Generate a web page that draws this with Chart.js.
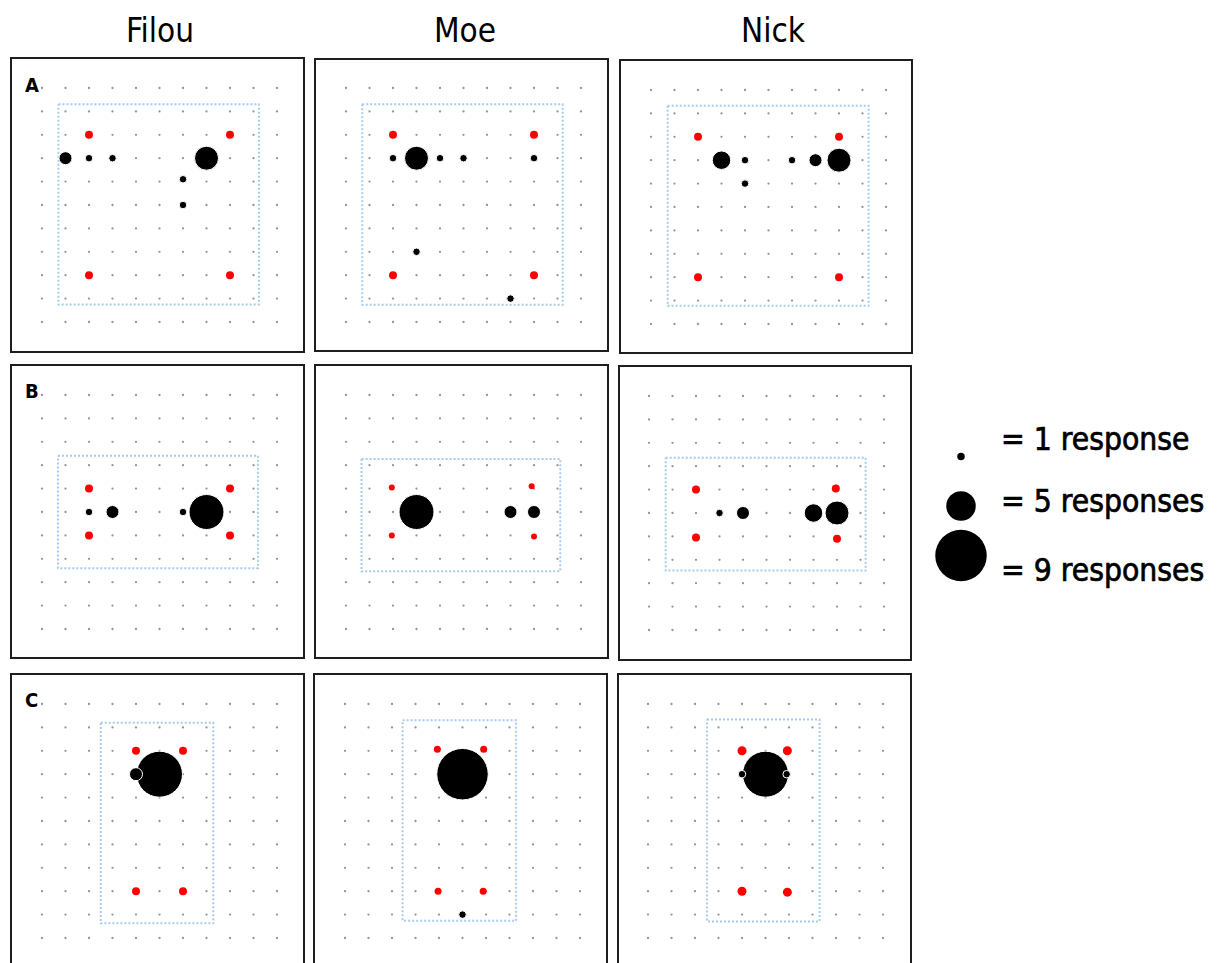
<!DOCTYPE html>
<html>
<head>
<meta charset="utf-8">
<script src="https://cdn.jsdelivr.net/npm/chart.js@4.4.1/dist/chart.umd.min.js"></script>
<style>
html, body { margin: 0; padding: 0; background: #fff; overflow: hidden; width: 1218px; height: 963px; }
body { position: relative; font-family: "DejaVu Sans Condensed", "DejaVu Sans", sans-serif; color: #000; }
.box { position: absolute; box-sizing: border-box; border: 2px solid #1e1e1e; }
.title { position: absolute; width: 200px; font-size: 33px; line-height: 33px; text-align: center; }
.letter { position: absolute; font-size: 20px; line-height: 20px; font-weight: bold; }
.leg { position: absolute; left: 1001px; font-size: 31.5px; line-height: 31px; white-space: nowrap; -webkit-text-stroke: 0.7px #000; }
canvas { position: absolute; }
</style>
</head>
<body>
<script>
// grid positions (columns / rows of the dot grid)
const gridTicks = [0, 1, 2, 3, 4, 5, 6, 7, 8, 9, 10];
const subjects = ['Filou', 'Moe', 'Nick'];
const conditions = ['A', 'B', 'C'];

// responses: [column, row, number of responses]
const respFilouA = [[1, 3, 2], [2, 3, 1], [3, 3, 1], [7, 3, 4], [6, 3.9, 1], [6, 5, 1]];
const respMoeA = [[2, 3, 1], [3, 3, 4], [4, 3, 1], [5, 3, 1], [8, 3, 1], [3, 7, 1], [7, 9, 1]];
const respNickA = [[3, 3, 3], [4, 3, 1], [4, 4, 1], [6, 3, 1], [7, 3, 2], [8, 3, 4]];
const respFilouB = [[2, 5, 1], [3, 5, 2], [6, 5, 1], [7, 5, 6]];
const respMoeB = [[3, 5, 6], [7, 5, 2], [8, 5, 2]];
const respNickB = [[3, 5, 1], [4, 5, 2], [7, 5, 3], [8, 5, 4]];
const respFilouC = [[5, 3, 8], [4, 3, 2]];
const respMoeC = [[5, 3, 9], [5, 9, 1]];
const respNickC = [[5, 3, 8], [4, 3, 1], [5.9, 3, 1]];

// red targets: [column, row]
const targetFilouA = [[2, 2], [8, 2], [2, 8], [8, 8]];
const targetMoeA = [[2, 2], [8, 2], [2, 8], [8, 8]];
const targetNickA = [[2, 2], [8, 2], [2, 8], [8, 8]];
const targetFilouB = [[2, 4], [8, 4], [2, 6], [8, 6]];
const targetMoeB = [[1.95, 3.95], [7.9, 3.9], [1.95, 6], [8, 6.05]];
const targetNickB = [[2, 4], [7.95, 3.95], [2, 6.05], [8, 6.1]];
const targetFilouC = [[4, 2], [6, 2], [4, 8], [6, 8]];
const targetMoeC = [[3.93, 1.93], [5.9, 1.93], [3.96, 8], [5.88, 8]];
const targetNickC = [[4, 2], [5.93, 2], [4, 8], [5.93, 8.04]];

// dotted area: [col from, col to, row from, row to]
const areaFilouA = [0.7, 9.23, 0.69, 9.25];
const areaMoeA = [0.69, 9.22, 0.69, 9.26];
const areaNickA = [0.71, 9.26, 0.67, 9.22];
const areaFilouB = [0.68, 9.19, 2.6, 7.4];
const areaMoeB = [0.66, 9.12, 2.74, 7.53];
const areaNickB = [0.71, 9.22, 2.64, 7.46];
const areaFilouC = [2.5, 7.29, 0.8, 9.37];
const areaMoeC = [2.45, 7.28, 0.69, 9.26];
const areaNickC = [2.51, 7.3, 0.66, 9.29];

// legend
const legendCounts = [1, 5, 9];
const legendLabels = ['= 1 response', '= 5 responses', '= 9 responses'];

const panelData = {
  FilouA: [respFilouA, targetFilouA, areaFilouA],
  MoeA: [respMoeA, targetMoeA, areaMoeA],
  NickA: [respNickA, targetNickA, areaNickA],
  FilouB: [respFilouB, targetFilouB, areaFilouB],
  MoeB: [respMoeB, targetMoeB, areaMoeB],
  NickB: [respNickB, targetNickB, areaNickB],
  FilouC: [respFilouC, targetFilouC, areaFilouC],
  MoeC: [respMoeC, targetMoeC, areaMoeC],
  NickC: [respNickC, targetNickC, areaNickC]
};

// layout: panel frame [left, top, right, bottom], grid origin [x, y], red dot size
const layout = {
  FilouA: { box: [10, 57, 305, 353], org: [42.3, 88.3], red: 4 },
  MoeA: { box: [314, 58, 609, 352], org: [346, 88.3], red: 4 },
  NickA: { box: [619, 59, 913, 354], org: [651, 90], red: 4 },
  FilouB: { box: [10, 364, 305, 659], org: [42.3, 395], red: 4 },
  MoeB: { box: [314, 364, 609, 659], org: [346, 395], red: 3 },
  NickB: { box: [618, 365, 912, 661], org: [649.3, 396], red: 4 },
  FilouC: { box: [10, 673, 305, 968], org: [42.3, 704], red: 4 },
  MoeC: { box: [313, 673, 608, 968], org: [345, 704], red: 3.5 },
  NickC: { box: [617, 673, 912, 968], org: [648.3, 704], red: 4.5 }
};

const PAD = 28, GW = 235, GH = 234;

function radius(n) { return 2.75 * n + 1; }

function addEl(tag, cls, left, top, text) {
  const el = document.createElement(tag);
  if (cls) el.className = cls;
  el.style.left = left + 'px';
  el.style.top = top + 'px';
  if (text) el.textContent = text;
  document.body.appendChild(el);
  return el;
}

const titleX = [160, 465, 773];
subjects.forEach((s, i) => addEl('div', 'title', titleX[i] - 100, 14, s));
const letterY = [75, 381, 690];
conditions.forEach((c, i) => addEl('div', 'letter', 25, letterY[i], c));

const gridPoints = [];
gridTicks.forEach(r => gridTicks.forEach(c => gridPoints.push({ x: c, y: r })));

function makePanel(key) {
  const [resp, target, area] = panelData[key];
  const lay = layout[key];
  const b = lay.box;
  const box = addEl('div', 'box', b[0], b[1]);
  box.style.width = (b[2] - b[0]) + 'px';
  box.style.height = (b[3] - b[1]) + 'px';

  const cv = addEl('canvas', null, lay.org[0] - PAD, lay.org[1] - PAD);
  cv.width = GW + 2 * PAD;
  cv.height = GH + 2 * PAD;

  const rect = [
    { x: area[0], y: area[2] }, { x: area[1], y: area[2] },
    { x: area[1], y: area[3] }, { x: area[0], y: area[3] }, { x: area[0], y: area[2] }
  ];

  new Chart(cv, {
    type: 'scatter',
    data: {
      datasets: [
        {
          data: gridPoints, pointRadius: 1.15, backgroundColor: '#959595',
          borderWidth: 0, clip: false, order: 4
        },
        {
          data: rect, showLine: true, pointRadius: 0, borderColor: '#a6cbef',
          borderWidth: 2, borderDash: [2, 2], tension: 0, fill: false, clip: false, order: 3
        },
        {
          data: target.map(p => ({ x: p[0], y: p[1] })), pointRadius: lay.red,
          backgroundColor: '#ff0000', borderWidth: 0, clip: false, order: 2
        },
        {
          type: 'bubble',
          data: resp.map(p => ({ x: p[0], y: p[1], r: radius(p[2]) })),
          backgroundColor: '#000', borderColor: '#fff', borderWidth: 1, clip: false, order: 1
        }
      ]
    },
    options: {
      responsive: false, animation: false, events: [],
      layout: { padding: PAD },
      plugins: { legend: { display: false }, tooltip: { enabled: false } },
      scales: {
        x: { type: 'linear', min: 0, max: 10, display: false },
        y: { type: 'linear', min: 0, max: 10, reverse: true, display: false }
      }
    }
  });
}

conditions.forEach(c => subjects.forEach(s => makePanel(s + c)));

// legend
const lcv = addEl('canvas', null, 921, 406);
lcv.width = 80;
lcv.height = 200;
new Chart(lcv, {
  type: 'bubble',
  data: {
    datasets: [{
      data: legendCounts.map((n, i) => ({ x: 0, y: i, r: radius(n) })),
      backgroundColor: '#000', borderColor: '#000', borderWidth: 0, clip: false
    }]
  },
  options: {
    responsive: false, animation: false, events: [],
    plugins: { legend: { display: false }, tooltip: { enabled: false } },
    scales: {
      x: { type: 'linear', min: -1, max: 1, display: false },
      y: { type: 'linear', min: -0.5, max: 2.5, reverse: true, display: false }
    }
  }
});
const legTop = [424, 486, 555];
legendLabels.forEach((t, i) => addEl('div', 'leg', 1001, legTop[i], t));
</script>
</body>
</html>
